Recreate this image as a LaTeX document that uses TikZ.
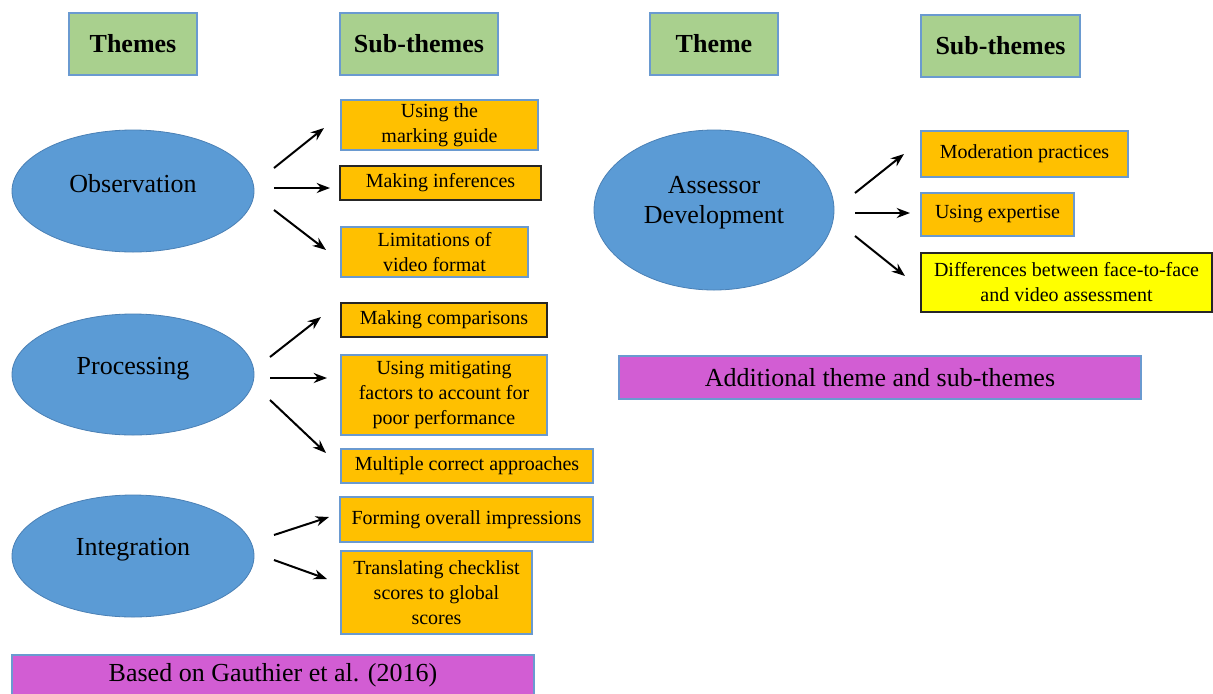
\documentclass[tikz,border=0pt]{standalone}
\usepackage{fontspec}
\setmainfont{Liberation Serif}
\usetikzlibrary{arrows.meta,shapes.geometric}
\definecolor{hgreen}{HTML}{A9D08E}
\definecolor{hblue}{HTML}{6A9AD0}
\definecolor{ellfill}{HTML}{5B9BD5}
\definecolor{ellbord}{HTML}{4A80B5}
\definecolor{orng}{HTML}{FFC000}
\definecolor{ylw}{HTML}{FFFF00}
\definecolor{mgnt}{HTML}{D25DD3}
\definecolor{dkb}{HTML}{262626}
\tikzset{
  bigfont/.style={font=\fontsize{19.5}{22.5}\selectfont},
  smallfont/.style={font=\fontsize{15}{18.75}\selectfont},
  header/.style={draw=hblue, fill=hgreen, line width=0.9pt, inner sep=0pt, bigfont, align=center},
  theme/.style={ellipse, draw=ellbord, fill=ellfill, line width=0.6pt, inner sep=0pt, bigfont, align=center},
  themetext/.style={inner sep=0pt, bigfont, align=center},
  sub/.style={draw=hblue, fill=orng, line width=0.9pt, inner sep=0pt, smallfont, align=center},
  subdark/.style={sub, draw=dkb},
  note/.style={draw=hblue, fill=mgnt, line width=0.9pt, inner sep=0pt, bigfont, align=center},
  arr/.style={line width=1.5pt, -{Stealth[length=10pt,width=7.5pt]}}
}
\begin{document}
\begin{tikzpicture}[x=0.75pt,y=-0.75pt]
\useasboundingbox (0,0) rectangle (1213,693);
\fill[white] (0,0) rectangle (1213,693);
% headers
\node[header, minimum width=96pt, minimum height=46.5pt] (hThemes) at (133,44) {\textbf{Themes}};
\node[header, minimum width=118.5pt, minimum height=46.5pt] (hSub1) at (419,44) {\textbf{Sub-themes}};
\node[header, minimum width=96pt, minimum height=46.5pt] (hTheme) at (714,44) {\textbf{Theme}};
\node[header, minimum width=119.25pt, minimum height=46.5pt] (hSub2) at (1000.5,46) {\textbf{Sub-themes}};
% themes
\node[theme, minimum width=181.5pt, minimum height=91.5pt] (obs) at (133,191) {};
\node[themetext] (obsT) at (133,184) {Observation};
\node[theme, minimum width=181.5pt, minimum height=90.75pt] (proc) at (133,374.5) {};
\node[themetext] (procT) at (133,369) {Processing};
\node[theme, minimum width=181.5pt, minimum height=91.5pt] (integ) at (133,556) {};
\node[themetext] (integT) at (133,550) {Integration};
\node[theme, minimum width=180pt, minimum height=120pt] (ad) at (714,210) {};
\node[themetext] (adT) at (714,203) {Assessor\\Development};
% sub-themes
\node[sub, minimum width=147.75pt, minimum height=37.5pt] (s1) at (439.5,125) {Using the\\marking guide};
\node[subdark, minimum width=150.75pt, minimum height=25.5pt] (s2) at (440.5,183) {Making inferences};
\node[sub, minimum width=140.25pt, minimum height=37.5pt] (s3) at (434.5,252) {Limitations of\\video format};
\node[subdark, minimum width=154.5pt, minimum height=25.5pt] (s4) at (444,320) {Making comparisons};
\node[sub, minimum width=154.5pt, minimum height=60pt] (s5) at (444,395) {Using mitigating\\factors to account for\\poor performance};
\node[sub, minimum width=189pt, minimum height=25.5pt] (s6) at (467,466) {Multiple correct approaches};
\node[sub, minimum width=189.75pt, minimum height=33.75pt] (s7) at (466.5,519.5) {Forming overall impressions};
\node[sub, minimum width=143.25pt, minimum height=62.25pt] (s8) at (436.5,592.5) {Translating checklist\\scores to global\\scores};
\node[sub, minimum width=155.25pt, minimum height=34.5pt] (m1) at (1024.5,154) {Moderation practices};
\node[sub, minimum width=114.75pt, minimum height=32.25pt] (m2) at (997.5,214.5) {Using expertise};
\node[subdark, fill=ylw, minimum width=218.25pt, minimum height=44.25pt] (m3) at (1066.5,282.5) {Differences between face-to-face\\and video assessment};
% notes
\node[note, minimum width=391.5pt, minimum height=30pt] (based) at (273,675) {Based on Gauthier et al. (2016)};
\node[note, minimum width=391.5pt, minimum height=32.25pt] (addl) at (880,377.5) {Additional theme and sub-themes};
% arrow end points
\coordinate (o1a) at (274,168); \coordinate (o1b) at (324,128);
\coordinate (o2a) at (274,188); \coordinate (o2b) at (330,188);
\coordinate (o3a) at (274,210); \coordinate (o3b) at (326,250);
\coordinate (p1a) at (270,357); \coordinate (p1b) at (321,317);
\coordinate (p2a) at (270,378); \coordinate (p2b) at (327,378);
\coordinate (p3a) at (270,400); \coordinate (p3b) at (326,453);
\coordinate (i1a) at (274,535); \coordinate (i1b) at (329,517);
\coordinate (i2a) at (274,560); \coordinate (i2b) at (327,579);
\coordinate (a1a) at (855,193); \coordinate (a1b) at (904,154);
\coordinate (a2a) at (855,213); \coordinate (a2b) at (910,213);
\coordinate (a3a) at (855,236); \coordinate (a3b) at (905,276);
\foreach \s/\e in {o1a/o1b,o2a/o2b,o3a/o3b,p1a/p1b,p2a/p2b,p3a/p3b,i1a/i1b,i2a/i2b,a1a/a1b,a2a/a2b,a3a/a3b}
  \draw[arr] (\s) -- (\e);
\end{tikzpicture}
\end{document}
